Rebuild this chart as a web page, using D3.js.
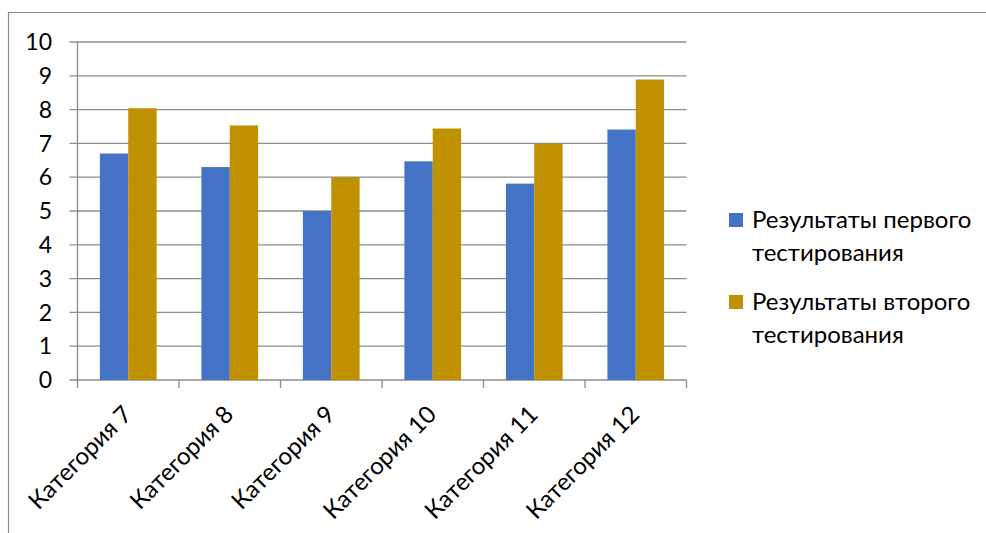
<!DOCTYPE html>
<html><head><meta charset="utf-8">
<script src="https://cdn.jsdelivr.net/npm/d3@7"></script>
<style>body{margin:0;background:#fff}svg{display:block}text{font-family:Lato,"Open Sans",sans-serif;fill:#000}</style>
</head><body><svg id="c" width="986" height="533"></svg>
<script>
const categories = ["Категория 7","Категория 8","Категория 9","Категория 10","Категория 11","Категория 12"];
const seriesNames = ["Результаты первого тестирования","Результаты второго тестирования"];
const first = [6.7, 6.3, 5.0, 6.47, 5.81, 7.41];
const second = [8.04, 7.53, 6.0, 7.44, 6.99, 8.89];
const yTicks = [0,1,2,3,4,5,6,7,8,9,10];
const colors = ["#4472C4","#BF9000"];

const svg = d3.select("#c");
const L = 77.5, R = 686.5, T = 42, B = 380;
// outer border
svg.append("path").attr("d","M8.5,533 V12.5 H986").attr("fill","none").attr("stroke","#8c8c8c").attr("stroke-width",1.2);

const x = d3.scaleBand().domain(categories).range([L,R]);
const y = d3.scaleLinear().domain([0,10]).range([B,T]);
const sub = d3.scaleBand().domain([0,1]).range([0,x.bandwidth()]).paddingInner(0).paddingOuter(0.79);

// gridlines
svg.append("g").selectAll("line").data(yTicks).join("line")
  .attr("x1",L-8).attr("x2",R).attr("y1",d=>y(d)).attr("y2",d=>y(d))
  .attr("stroke","#8c8c8c").attr("stroke-width",1.3);

// bars
const data = categories.map((c,i)=>[first[i],second[i]]);
const g = svg.append("g");
categories.forEach((c,i)=>{
  data[i].forEach((v,s)=>{
    g.append("rect").attr("x",x(c)+sub(s)).attr("width",sub.bandwidth())
      .attr("y",y(v)).attr("height",y(0)-y(v)).attr("fill",colors[s]);
  });
});

// y axis line
svg.append("line").attr("x1",L).attr("x2",L).attr("y1",T).attr("y2",B).attr("stroke","#8c8c8c").attr("stroke-width",1.3);
// x axis ticks
const bounds = categories.map(c=>x(c)).concat([R]);
svg.append("g").selectAll("line").data(bounds).join("line")
  .attr("x1",d=>d).attr("x2",d=>d).attr("y1",B).attr("y2",B+8).attr("stroke","#8c8c8c").attr("stroke-width",1.3);

// y labels
svg.append("g").selectAll("text").data(yTicks).join("text")
  .attr("x",52).attr("y",d=>y(d)).attr("dy","0.36em").attr("text-anchor","end")
  .attr("font-size",23).text(d=>d);

// x labels
svg.append("g").selectAll("text").data(categories).join("text")
  .attr("text-anchor","end").attr("font-size",24)
  .attr("transform",c=>`translate(${x(c)+x.bandwidth()/2+5},${B+36}) rotate(-45)`)
  .text(c=>c);

// legend
const lg = svg.append("g");
seriesNames.forEach((n,i)=>{
  const words = n.split(" ");
  const y0 = 213 + i*82;
  lg.append("rect").attr("x",729).attr("y",y0).attr("width",14).attr("height",14).attr("fill",colors[i]);
  const t = lg.append("text").attr("x",752).attr("y",y0+15).attr("font-size",24);
  t.append("tspan").attr("x",752).text(words[0]+" "+words[1]);
  t.append("tspan").attr("x",752).attr("dy",33).text(words[2]);
});
</script></body></html>
